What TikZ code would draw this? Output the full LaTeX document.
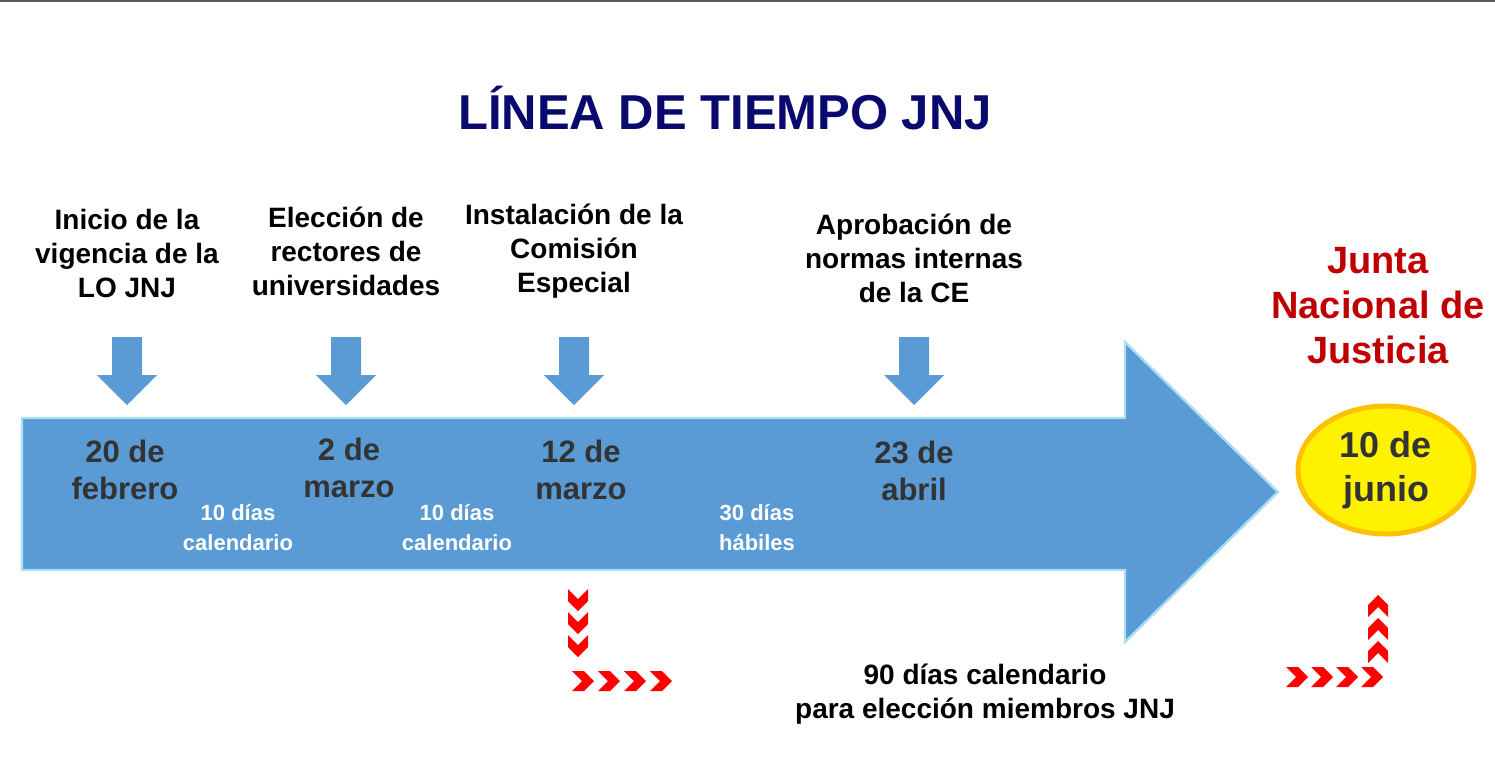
\documentclass[tikz,border=0pt]{standalone}
\usepackage{fontspec}
\setmainfont{Liberation Sans}
\usetikzlibrary{positioning,shapes.geometric}

\definecolor{barblue}{HTML}{5B9BD5}
\definecolor{barrim}{HTML}{A9DEF5}
\definecolor{navy}{HTML}{0A0A6E}
\definecolor{darkred}{HTML}{C00000}
\definecolor{datetxt}{HTML}{333333}
\definecolor{ringorange}{HTML}{FFC000}

\tikzset{
  lbl/.style={font=\fontsize{14}{17}\selectfont\bfseries, align=center, text=black},
  datelbl/.style={font=\fontsize{15.5}{18.5}\selectfont\bfseries, align=center, text=datetxt},
  gaplbl/.style={font=\fontsize{11}{15}\selectfont\bfseries, align=center, text=white},
  chev/.pic={\fill[red] (-11,-10) -- (1,-10) -- (11,0) -- (1,10) -- (-11,10) -- (-1,0) -- cycle;},
  downarr/.pic={\fill[barblue] (-15,0) -- (15,0) -- (15,38) -- (30,38) -- (0,68) -- (-30,38) -- (-15,38) -- cycle;}
}

\begin{document}
\begin{tikzpicture}[x=0.5pt, y=-0.5pt]
  \useasboundingbox (0,0) rectangle (1495,777);
  \draw[gray!70!black, line width=1pt] (0,1) -- (1495,1);

  \node[font=\fontsize{24.5}{28}\selectfont\bfseries, text=navy] (title) at (725,108) {LÍNEA DE TIEMPO JNJ};

  % big timeline arrow
  \filldraw[fill=barblue, draw=barrim, line width=1.2pt]
    (22,418) -- (1125,418) -- (1125,342) -- (1278,492) -- (1125,642) -- (1125,570) -- (22,570) -- cycle;

  % events
  \foreach \name/\x in {ini/127, ele/346, ins/574, apr/914} {
    \coordinate (\name) at (\x,337);
    \pic at (\name) {downarr};
  }
  \node[lbl, above=16pt of ini] (iniT) {Inicio de la\\vigencia de la\\LO JNJ};
  \node[lbl, above=17pt of ele] (eleT) {Elección de\\rectores de\\universidades};
  \node[lbl, above=16pt of ins] (insT) {Instalación de la\\Comisión\\Especial};
  \node[lbl, above=13.5pt of apr] (aprT) {Aprobación de\\normas internas\\de la CE};

  \node[datelbl] (d1) at (125,470) {20 de\\febrero};
  \node[datelbl] (d2) at (349,468) {2 de\\marzo};
  \node[datelbl] (d3) at (581,470) {12 de\\marzo};
  \node[datelbl] (d4) at (914,471) {23 de\\abril};

  \node[gaplbl] (g1) at (238,528) {10 días\\calendario};
  \node[gaplbl] (g2) at (457,528) {10 días\\calendario};
  \node[gaplbl] (g3) at (757,528) {30 días\\hábiles};

  % final event
  \node[font=\fontsize{19}{22.5}\selectfont\bfseries, text=darkred, align=center] (jnj) at (1378,306) {Junta\\Nacional de\\Justicia};
  \node[ellipse, draw=ringorange, fill=yellow, line width=2.5pt, minimum width=88pt, minimum height=64pt, inner sep=0pt] (fin) at (1386,470) {};
  \node[font=\fontsize{18}{22}\selectfont\bfseries, text=datetxt, align=center] (finT) at (fin) {10 de\\junio};

  \node[lbl] (plazo) at (985,694) {90 días calendario\\para elección miembros JNJ};

  % red chevrons
  \foreach \y in {600,623,646} \pic[rotate=-90] at (578,\y) {chev};
  \foreach \x in {583,609,635,661} \pic at (\x,681) {chev};
  \foreach \x in {1297,1322,1347,1372} \pic at (\x,677) {chev};
  \foreach \y in {652,629,606} \pic[rotate=90] at (1378,\y) {chev};
\end{tikzpicture}
\end{document}
